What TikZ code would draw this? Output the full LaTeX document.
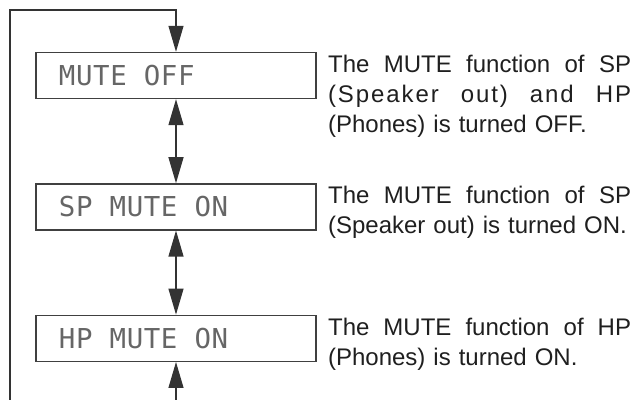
\documentclass[tikz,border=0pt]{standalone}
\usepackage{fontspec}
\setmainfont{Liberation Sans}
\newfontfamily\lcdfont{DejaVu Sans Mono}[LetterSpace=2.2]
\usetikzlibrary{arrows.meta,positioning}
% display text: mono, one cell per blank
\newcommand{\lcdtext}{\lcdfont\fontsize{13.7}{15}\selectfont}
\newcommand{\lcdgap}{\hspace{0.624em}}
% a line spread over the width of the descriptions
\newlength{\descwd}
\setlength{\descwd}{151.5pt}
\newcommand{\fullline}[2]{\makebox[\descwd][l]{\addfontfeature{LetterSpace=#1}#2}}

\begin{document}
\begin{tikzpicture}[x=0.5pt,y=-0.5pt,
    lcdbox/.style={draw=black!75,line width=0.7pt,minimum width=140pt,minimum height=23pt,
      inner sep=0pt,text width=117pt,align=left,text=black!60,font=\lcdtext},
    desc/.style={anchor=north west,inner sep=0pt,text width=160pt,align=left,text=black!88,
      font=\fontsize{12}{15}\selectfont},
    flow/.style={draw=black!80,line width=0.6pt,-{Triangle[length=13pt,width=7.5pt]}},
    twoway/.style={draw=black!80,line width=0.6pt,{Triangle[length=13pt,width=7.5pt]}-{Triangle[length=13pt,width=7.5pt]}}]
    \useasboundingbox (0,0) rectangle (634,400);
    % Display boxes
    \node[lcdbox] (off) at (176,75.5) {MUTE\lcdgap OFF};
    \node[lcdbox,below=42pt of off] (sp) {SP\lcdgap MUTE\lcdgap ON};
    \node[lcdbox,below=42pt of sp] (hp) {HP\lcdgap MUTE\lcdgap ON};
    % Descriptions
    \node[desc] (offtxt) at ([xshift=5.5pt,yshift=-1.5pt]off.north east)
      {\fullline{0}{The \hfill MUTE \hfill function \hfill of \hfill SP}\\
       \fullline{8}{(Speaker \hfill out) \hfill and \hfill HP}\\
       (Phones) is turned OFF.};
    \node[desc] (sptxt) at ([xshift=5.5pt,yshift=-1.5pt]sp.north east)
      {\fullline{0}{The \hfill MUTE \hfill function \hfill of \hfill SP}\\
       (Speaker out) is turned ON.};
    \node[desc] (hptxt) at ([xshift=5.5pt,yshift=-1.5pt]hp.north east)
      {\fullline{0}{The \hfill MUTE \hfill function \hfill of \hfill HP}\\
       (Phones) is turned ON.};
    % Loop back to the top
    \coordinate (loopin) at (10,400);
    \coordinate (loopturn) at (176,10);
    \coordinate (loopout) at (176,400);
    \draw[flow] (loopin) |- (loopturn) -- (off.north);
    \draw[flow] (loopout) -- (hp.south);
    % Steps between the boxes
    \foreach \a/\b in {off/sp,sp/hp} {
      \draw[twoway] (\a.south) -- (\b.north);
    }
\end{tikzpicture}
\end{document}
